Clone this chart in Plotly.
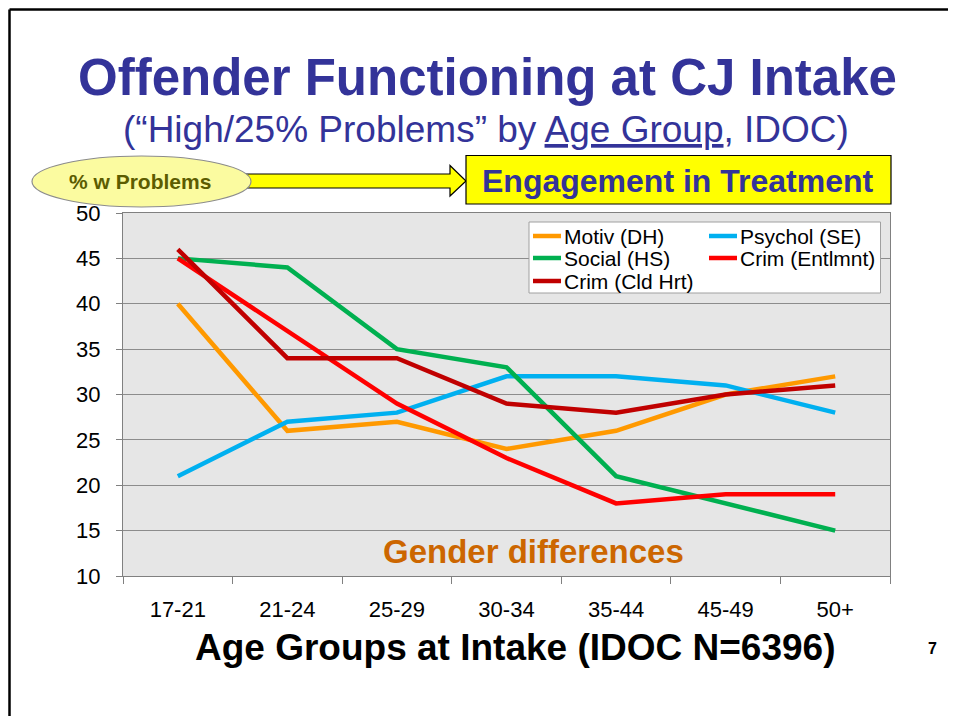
import plotly.graph_objects as go

# ---------------- data ----------------
age_groups = ["17-21", "21-24", "25-29", "30-34", "35-44", "45-49", "50+"]
series_names = ["Motiv (DH)", "Psychol (SE)", "Social (HS)", "Crim (Entlmnt)", "Crim (Cld Hrt)"]
motiv_dh = [40, 26, 27, 24, 26, 30, 32]
psychol_se = [21, 27, 28, 32, 32, 31, 28]
social_hs = [45, 44, 35, 33, 21, 18, 15]
crim_entlmnt = [45, 37, 29, 23, 18, 19, 19]
crim_cld_hrt = [46, 34, 34, 29, 28, 30, 31]
y_ticks = [10, 15, 20, 25, 30, 35, 40, 45, 50]

series_values = [motiv_dh, psychol_se, social_hs, crim_entlmnt, crim_cld_hrt]
colors = ["#FF9900", "#00B0F0", "#00B050", "#FF0000", "#C00000"]

FONT = "Liberation Sans, Arial, sans-serif"
TITLE_BLUE = "#333399"

# ---------------- geometry helpers (screen pixel -> paper) ----------------
OFF = 8  # page body margin
FW, FH = 956 - 2 * OFF, 724 - 2 * OFF
L, R, T, B = 123, 890, 213, 576  # plot area in screen pixels
PW, PH = R - L, B - T


def px(x):
    return (x - L) / PW


def py(y):
    return (B - y) / PH


fig = go.Figure()
for name, vals, col in zip(series_names, series_values, colors):
    fig.add_trace(go.Scatter(
        x=age_groups, y=vals, mode="lines", name=name,
        line=dict(color=col, width=4.5), showlegend=False,
    ))

shapes = []
annotations = []

# slide frame (top and left edges only)
shapes.append(dict(type="line", xref="paper", yref="paper",
                   x0=px(9.5), x1=px(948), y0=py(9.5), y1=py(9.5),
                   line=dict(color="black", width=2.5)))
shapes.append(dict(type="line", xref="paper", yref="paper",
                   x0=px(9.5), x1=px(9.5), y0=py(9.5), y1=py(716),
                   line=dict(color="black", width=2.5)))

# title + subtitle
annotations.append(dict(text="<b>Offender Functioning at CJ Intake</b>", xref="paper", yref="paper",
                        x=px(487), y=py(77), showarrow=False, xanchor="center", yanchor="middle",
                        font=dict(family=FONT, size=51, color=TITLE_BLUE)))
annotations.append(dict(text="(\u201cHigh/25% Problems\u201d by <u>Age Group</u>, IDOC)", xref="paper", yref="paper",
                        x=px(486), y=py(129), showarrow=False, xanchor="center", yanchor="middle",
                        font=dict(family=FONT, size=37, color=TITLE_BLUE)))

# arrow (block)
arrow_path = (f"M {px(240)},{py(174)} L {px(450)},{py(174)} L {px(450)},{py(165.5)} "
              f"L {px(466)},{py(181)} L {px(450)},{py(196)} L {px(450)},{py(188)} "
              f"L {px(240)},{py(188)} Z")
shapes.append(dict(type="path", xref="paper", yref="paper", path=arrow_path,
                   fillcolor="#FFFF00", line=dict(color="black", width=1.2)))

# ellipse
shapes.append(dict(type="circle", xref="paper", yref="paper",
                   x0=px(32), x1=px(251), y0=py(207), y1=py(156),
                   fillcolor="#FBFBA0", line=dict(color="#8C8C8C", width=1.2)))
annotations.append(dict(text="<b>% w Problems</b>", xref="paper", yref="paper",
                        x=px(140), y=py(182), showarrow=False, xanchor="center", yanchor="middle",
                        font=dict(family=FONT, size=21, color="#5C5C00")))

# Engagement box
shapes.append(dict(type="rect", xref="paper", yref="paper",
                   x0=px(466), x1=px(891), y0=py(204), y1=py(155.5),
                   fillcolor="#FFFF00", line=dict(color="black", width=1.2)))
annotations.append(dict(text="<b>Engagement in Treatment</b>", xref="paper", yref="paper",
                        x=px(678), y=py(181), showarrow=False, xanchor="center", yanchor="middle",
                        font=dict(family=FONT, size=32, color=TITLE_BLUE)))

# legend (two columns, drawn in a framed box)
shapes.append(dict(type="rect", xref="paper", yref="paper",
                   x0=px(529), x1=px(880.5), y0=py(293), y1=py(222),
                   fillcolor="white", line=dict(color="#A0A0A0", width=1)))
legend_slots = [(533, 236), (709, 236), (533, 258), (709, 258), (533, 281)]
for (lx, ly), name, col in zip(legend_slots, series_names, colors):
    shapes.append(dict(type="line", xref="paper", yref="paper",
                       x0=px(lx), x1=px(lx + 28), y0=py(ly), y1=py(ly),
                       line=dict(color=col, width=4.5)))
    annotations.append(dict(text=name, xref="paper", yref="paper",
                            x=px(lx + 29), y=py(ly), showarrow=False, xanchor="left", yanchor="middle",
                            font=dict(family=FONT, size=21, color="black")))

# Gender differences
annotations.append(dict(text="<b>Gender differences</b>", xref="paper", yref="paper",
                        x=px(533), y=py(551), showarrow=False, xanchor="center", yanchor="middle",
                        font=dict(family=FONT, size=33, color="#CC6600")))

# x axis title
annotations.append(dict(text="<b>Age Groups at Intake (IDOC N=6396)</b>", xref="paper", yref="paper",
                        x=px(515), y=py(647), showarrow=False, xanchor="center", yanchor="middle",
                        font=dict(family=FONT, size=37, color="black")))

# slide number
annotations.append(dict(text="<b>7</b>", xref="paper", yref="paper",
                        x=px(932), y=py(648), showarrow=False, xanchor="center", yanchor="middle",
                        font=dict(family=FONT, size=16, color="black")))

fig.update_layout(
    width=FW, height=FH,
    margin=dict(l=L - OFF, r=FW - (R - OFF), t=T - OFF, b=FH - (B - OFF), pad=0),
    paper_bgcolor="white", plot_bgcolor="#E6E6E6",
    font=dict(family=FONT, color="black"),
    showlegend=False,
    shapes=shapes, annotations=annotations,
)
fig.update_xaxes(
    type="category", range=[-0.5, 6.5], showgrid=False, zeroline=False,
    showline=True, linecolor="#808080", linewidth=1.2, mirror=True,
    ticks="outside", ticklen=7, tickcolor="#808080", tickson="boundaries",
    tickfont=dict(family=FONT, size=22, color="black"), ticklabelstandoff=13,
)
fig.update_yaxes(
    range=[10, 50], tickvals=y_ticks, showgrid=True, gridcolor="#8C8C8C", gridwidth=1,
    zeroline=False, showline=True, linecolor="#808080", linewidth=1.2, mirror=True,
    ticks="outside", ticklen=6, tickcolor="#808080",
    tickfont=dict(family=FONT, size=22, color="black"), ticklabelstandoff=11,
)

fig.write_html("out.html")
